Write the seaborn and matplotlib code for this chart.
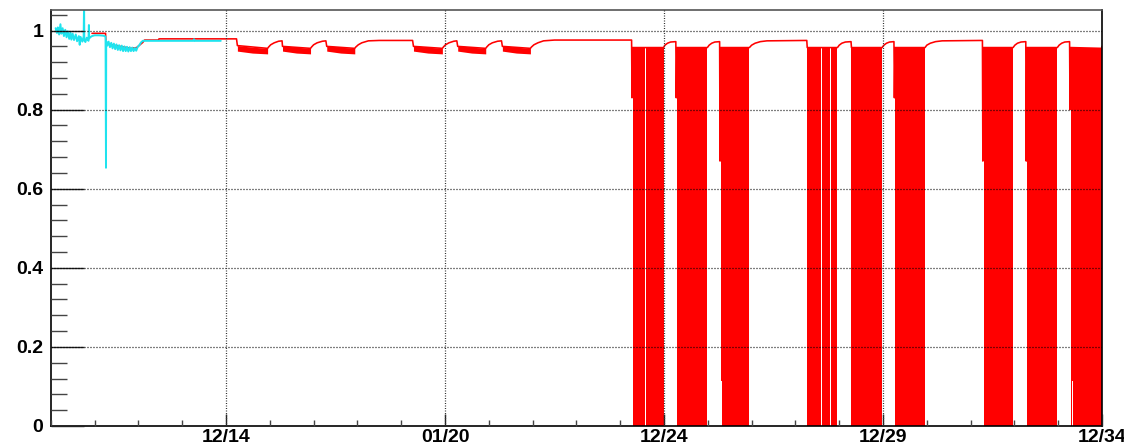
import numpy as np
import pandas as pd
import matplotlib
matplotlib.use("Agg")
import matplotlib.pyplot as plt
from matplotlib.ticker import FixedLocator, MultipleLocator
import seaborn as sns

# ---------------- data (x in axis units, 1 unit = one minor tick) ----------------
x_major_ticks = [4, 9, 14, 19, 24]
x_tick_labels = ["12/14", "01/20", "12/24", "12/29", "12/34"]
y_major_ticks = [0, 0.2, 0.4, 0.6, 0.8, 1.0]
y_tick_labels = ["0", "0.2", "0.4", "0.6", "0.8", "1"]

# cyan series (early period)
cyan_x = [0.11, 0.14, 0.16, 0.19, 0.22, 0.24, 0.27, 0.30, 0.33, 0.36, 0.39, 0.42,
          0.45, 0.47, 0.50, 0.53, 0.57, 0.60, 0.64, 0.66, 0.68, 0.72, 0.75, 0.76,
          0.765, 0.79, 0.82, 0.86, 0.87, 0.875, 0.90, 0.94, 1.00, 1.10, 1.20, 1.25,
          1.26, 1.265, 1.29, 1.32, 1.35, 1.38, 1.41, 1.44, 1.47, 1.50, 1.53, 1.56,
          1.59, 1.62, 1.65, 1.68, 1.71, 1.74, 1.77, 1.80, 1.83, 1.86, 1.89, 1.92,
          1.95, 1.98, 2.02, 2.06, 2.10, 2.50, 3.00, 3.26, 3.27, 3.29, 3.88]
cyan_y = [1.006, 0.994, 1.008, 0.990, 1.016, 0.992, 1.006, 0.986, 1.002, 0.983, 0.998, 0.979,
          0.995, 0.977, 0.992, 0.976, 0.990, 0.973, 0.986, 0.964, 0.984, 0.972, 0.985, 1.070,
          0.975, 0.971, 0.982, 0.974, 1.014, 0.980, 0.983, 0.986, 0.988, 0.988, 0.987, 0.985,
          0.653, 0.973, 0.962, 0.972, 0.958, 0.969, 0.955, 0.967, 0.953, 0.965, 0.951, 0.963,
          0.950, 0.962, 0.948, 0.960, 0.948, 0.959, 0.947, 0.958, 0.948, 0.957, 0.948, 0.956,
          0.949, 0.958, 0.963, 0.970, 0.974, 0.974, 0.974, 0.974, 0.978, 0.974, 0.974]

# red series: envelope line
red_x = [0.94, 1.25, 1.26, 1.48, 1.83, 1.96, 2.10, 2.14, 2.46, 2.47, 4.24, 4.26,
         4.95, 4.97, 5.02, 5.10, 5.20, 5.28, 5.29,
         5.93, 5.95, 6.00, 6.08, 6.20, 6.28, 6.30,
         6.94, 6.96, 7.02, 7.10, 7.25, 7.50, 8.26, 8.28,
         8.94, 8.96, 9.01, 9.09, 9.20, 9.27, 9.29,
         9.93, 9.95, 10.00, 10.08, 10.20, 10.29, 10.31,
         10.95, 10.97, 11.03, 11.12, 11.25, 11.50, 13.26, 13.27, 13.285,
         13.99, 14.02, 14.08, 14.15, 14.27, 14.28, 14.295,
         14.99, 15.03, 15.09, 15.16, 15.27, 15.28, 15.295,
         15.95, 16.00, 16.08, 16.20, 16.35, 17.26, 17.27,
         17.96, 18.00, 18.06, 18.14, 18.27, 18.28,
         18.98, 19.02, 19.08, 19.15, 19.25, 19.26, 19.275,
         19.96, 20.00, 20.08, 20.20, 20.35, 21.27, 21.28, 21.295,
         21.97, 22.01, 22.07, 22.15, 22.26, 22.27, 22.285,
         22.98, 23.02, 23.08, 23.15, 23.26, 23.27, 23.285, 23.99, 24.00]
red_y = [0.993, 0.993, 0.968, 0.962, 0.955, 0.957, 0.970, 0.976, 0.976, 0.979, 0.979, 0.962,
         0.955, 0.958, 0.964, 0.969, 0.973, 0.974, 0.960,
         0.955, 0.958, 0.964, 0.969, 0.973, 0.974, 0.960,
         0.955, 0.958, 0.964, 0.969, 0.974, 0.975, 0.975, 0.960,
         0.955, 0.958, 0.964, 0.969, 0.973, 0.974, 0.960,
         0.955, 0.958, 0.964, 0.969, 0.973, 0.974, 0.960,
         0.955, 0.958, 0.964, 0.969, 0.974, 0.976, 0.976, 0.830, 0.957,
         0.957, 0.963, 0.968, 0.971, 0.972, 0.830, 0.957,
         0.957, 0.963, 0.968, 0.971, 0.972, 0.670, 0.957,
         0.957, 0.963, 0.968, 0.972, 0.974, 0.975, 0.957,
         0.957, 0.963, 0.968, 0.971, 0.972, 0.957,
         0.957, 0.963, 0.968, 0.971, 0.972, 0.830, 0.957,
         0.957, 0.963, 0.968, 0.972, 0.974, 0.975, 0.670, 0.957,
         0.957, 0.963, 0.968, 0.971, 0.972, 0.670, 0.957,
         0.957, 0.963, 0.968, 0.971, 0.972, 0.800, 0.957, 0.955, 0.960]

# narrow noisy bands (small oscillations)
band_start = [4.26, 5.29, 6.30, 8.28, 9.29, 10.31]
band_end = [4.95, 5.93, 6.94, 8.94, 9.93, 10.95]
band_top = [0.962, 0.958, 0.955]
band_bottom = [0.948, 0.943, 0.941]

# dense blocks oscillating between ~0 and the top
block_start = [13.285, 14.295, 15.295, 17.27, 18.28, 19.275, 21.295, 22.285, 23.285]
block_end = [13.99, 14.99, 15.95, 17.96, 18.98, 19.96, 21.97, 22.98, 24.00]
block_top = [0.957, 0.957, 0.957, 0.957, 0.957, 0.957, 0.957, 0.957, 0.957]
gap_x = [13.47, 13.58, 13.84, 13.95, 14.59, 14.87, 15.46, 15.60, 15.87,
         17.36, 17.47, 17.59, 17.72, 17.80, 18.45, 18.61, 18.73, 19.59, 19.82,
         21.51, 21.58, 21.85, 22.47, 22.58, 22.88, 23.36, 23.59]
partial_gap_x = [13.34, 14.34, 15.31, 21.33, 22.33, 23.33]
partial_gap_level = 0.115

# ---------------- style ----------------
sns.set_style("white")
plt.rcParams["font.family"] = ["Liberation Sans", "DejaVu Sans"]

RED = "#ff0000"
CYAN = "#1fe3ee"

fig = plt.figure(figsize=(11.24, 4.46), dpi=100)
ax = fig.add_axes([50.8 / 1124, 20 / 446, (1102 - 50.8) / 1124, 416 / 446])

gap_w = 0.012
# dense blocks
for s, e, top in zip(block_start, block_end, block_top):
    cuts = [g for g in gap_x if s < g < e]
    edges = [s] + cuts + [e]
    for i in range(len(edges) - 1):
        a = edges[i] + (gap_w / 2 if i > 0 else 0)
        b = edges[i + 1] - (gap_w / 2 if i + 1 < len(edges) - 1 else 0)
        ax.fill_between([a, b], [0, 0], [top, top], color=RED, lw=0, zorder=1.5)
for g in partial_gap_x:
    ax.fill_between([g - gap_w / 2, g + gap_w / 2], [0, 0],
                    [partial_gap_level, partial_gap_level], color="white", lw=0, zorder=1.6)

# bands
for s, e in zip(band_start, band_end):
    ax.fill_between([s, (s + e) / 2, e], band_bottom, band_top, color=RED, lw=0, zorder=1.5)

red_df = pd.DataFrame({"x": red_x, "y": red_y})
cyan_df = pd.DataFrame({"x": cyan_x, "y": cyan_y})
sns.lineplot(data=red_df, x="x", y="y", sort=False, estimator=None,
             color=RED, lw=1.15, ax=ax, zorder=2)
sns.lineplot(data=cyan_df, x="x", y="y", sort=False, estimator=None,
             color=CYAN, lw=1.4, ax=ax, zorder=2.2)

# ---------------- axes ----------------
ax.set_xlim(0, 24)
ax.set_ylim(0, 1.052)
ax.set_xlabel("")
ax.set_ylabel("")

ax.set_xticks(x_major_ticks)
ax.set_xticklabels(x_tick_labels)
ax.xaxis.set_minor_locator(MultipleLocator(1))
ax.set_yticks(y_major_ticks)
ax.set_yticklabels(y_tick_labels)
ax.yaxis.set_minor_locator(MultipleLocator(0.04))

for lab in ax.get_xticklabels() + ax.get_yticklabels():
    lab.set_fontweight("bold")
    lab.set_fontsize(14)
    lab.set_color("black")

ax.tick_params(axis="y", which="major", direction="in", length=23.5, width=1.0,
               color="#222222", pad=5.5, left=True, right=False)
ax.tick_params(axis="y", which="minor", direction="in", length=11.5, width=1.0,
               color="#444444", left=True, right=False)
ax.tick_params(axis="x", which="major", direction="in", length=8.6, width=1.0,
               color="#222222", pad=2.5, bottom=True, top=False)
ax.tick_params(axis="x", which="minor", direction="in", length=4.3, width=1.0,
               color="#444444", bottom=True, top=False)

for sp in ax.spines.values():
    sp.set_visible(True)
    sp.set_color("black")
    sp.set_linewidth(1.2)
ax.spines["top"].set_color("#555555")

# grid on top, dotted
ax.set_axisbelow(False)
ax.grid(False)
for yv in y_major_ticks[1:]:
    ax.axhline(yv, color="black", lw=0.9, ls=(0, (0.8, 1.6)), zorder=3)
for xv in x_major_ticks[:-1]:
    ax.axvline(xv, color="#333333", lw=0.9, ls=(0, (0.8, 1.2)), zorder=3)

fig.savefig("out.png", dpi=100, facecolor="white")
